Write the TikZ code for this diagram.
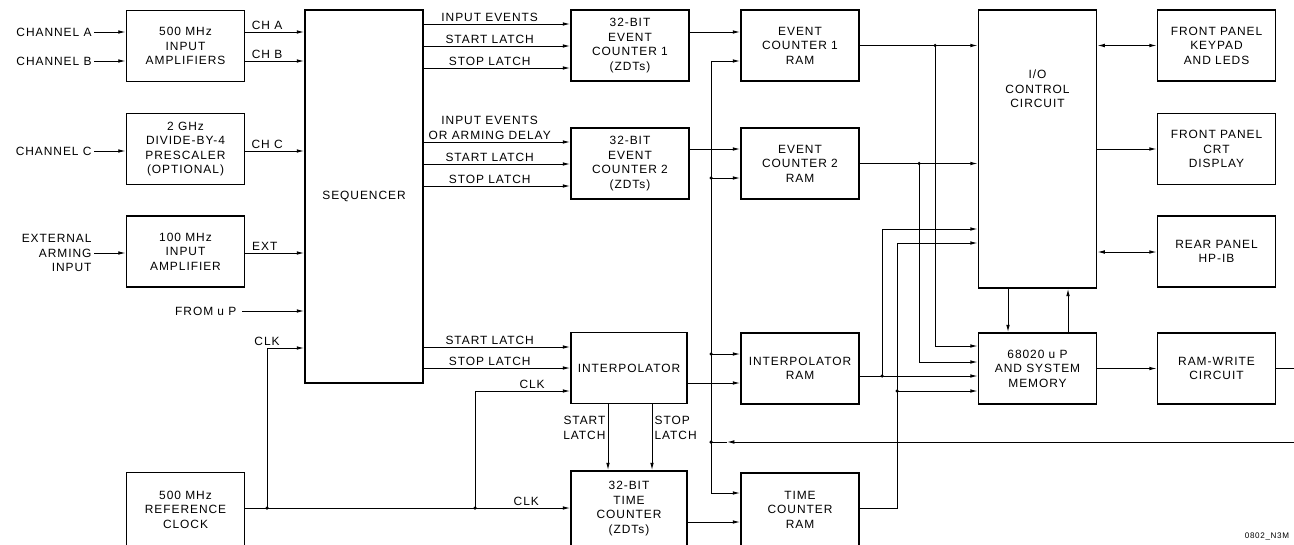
\documentclass[tikz,border=0pt]{standalone}
\usepackage{fontspec}
\setmainfont{Liberation Sans}[LetterSpace=8]
\usetikzlibrary{arrows.meta}

\begin{document}
\begin{tikzpicture}[x=.02cm,y=-.02cm,>={Latex[length=4.2pt,width=2.1pt]},
 every node/.style={font=\fontsize{6.8}{8.2}\selectfont,inner sep=1.5pt},
 box/.style={draw,line width=1pt,align=center,minimum width=2.36cm,minimum height=1.42cm},
 arr/.style={->,line width=.55pt},
 wire/.style={line width=.55pt},
 lbl/.style={inner sep=1.2pt}]
\useasboundingbox (0,0) rectangle (1294,544);
% input stage
\node[box] (amp1) at (185.5,46) {500 MHz\\INPUT\\AMPLIFIERS};
\node[box] (presc) at (185.5,149) {2 GHz\\DIVIDE-BY-4\\PRESCALER\\(OPTIONAL)};
\node[box] (amp100) at (185.5,251.5) {100 MHz\\INPUT\\AMPLIFIER};
\node[box,minimum height=1.48cm] (refclk) at (185.5,509.5) {500 MHz\\REFERENCE\\CLOCK};
\node[box,minimum height=7.46cm] (seq) at (364,196.5) {SEQUENCER};
\node[lbl,anchor=east] (chA) at (94,32) {CHANNEL A};
\node[lbl,anchor=east] (chB) at (94,61) {CHANNEL B};
\node[lbl,anchor=east] (chC) at (94,151) {CHANNEL C};
\node[lbl,anchor=east,align=right] (extarm) at (94,253) {EXTERNAL\\ARMING\\INPUT};
\node[lbl,anchor=east,inner sep=3pt] (fromup) at (242,311) {FROM u P};
\draw[arr] (chA.east) -- (amp1.west |- chA.east);
\draw[arr] (chB.east) -- (amp1.west |- chB.east);
\draw[arr] (chC.east) -- (presc.west |- chC.east);
\draw[arr] (extarm.east) -- (amp100.west |- extarm.east);
\draw[arr] (amp1.east |- chA.east) -- node[lbl,above,pos=.37] (lcha) {CH A} (seq.west |- chA.east);
\draw[arr] (amp1.east |- chB.east) -- node[lbl,above,pos=.37] (lchb) {CH B} (seq.west |- chB.east);
\draw[arr] (presc.east |- chC.east) -- node[lbl,above,pos=.37] (lchc) {CH C} (seq.west |- chC.east);
\draw[arr] (amp100.east |- extarm.east) -- node[lbl,above,pos=.33] (lext) {EXT} (seq.west |- extarm.east);
\draw[arr] (fromup.east) -- (seq.west |- fromup.east);
% counters
\node[box] (ec1) at (630,45.5) {32-BIT\\EVENT\\COUNTER 1\\(ZDTs)};
\node[box] (ec2) at (630,163.5) {32-BIT\\EVENT\\COUNTER 2\\(ZDTs)};
\node[box,minimum width=2.32cm] (interp) at (629,368) {INTERPOLATOR};
\node[box,minimum width=2.32cm,minimum height=1.5cm] (tc) at (629,508.5) {32-BIT\\TIME\\COUNTER\\(ZDTs)};
\draw[arr] (seq.east |- 0,24) -- node[lbl,above,pos=.45] (lie1) {INPUT EVENTS} (ec1.west |- 0,24);
\draw[arr] (seq.east |- 0,46) -- node[lbl,above,pos=.45] (lsa1) {START LATCH} (ec1.west |- 0,46);
\draw[arr] (seq.east |- 0,68) -- node[lbl,above,pos=.45] (lso1) {STOP LATCH} (ec1.west |- 0,68);
\draw[arr] (seq.east |- 0,142) -- node[lbl,above,pos=.45,align=center] (lie2) {INPUT EVENTS\\OR ARMING DELAY} (ec2.west |- 0,142);
\draw[arr] (seq.east |- 0,164) -- node[lbl,above,pos=.45] (lsa2) {START LATCH} (ec2.west |- 0,164);
\draw[arr] (seq.east |- 0,186) -- node[lbl,above,pos=.45] (lso2) {STOP LATCH} (ec2.west |- 0,186);
\draw[arr] (seq.east |- 0,347) -- node[lbl,above,pos=.45] (lsa3) {START LATCH} (interp.west |- 0,347);
\draw[arr] (seq.east |- 0,368) -- node[lbl,above,pos=.45] (lso3) {STOP LATCH} (interp.west |- 0,368);
\draw[arr] (interp.south -| 608,0) -- node[lbl,left,pos=.36,align=right] (lsta) {START\\LATCH} (tc.north -| 608,0);
\draw[arr] (interp.south -| 652,0) -- node[lbl,right,pos=.36,align=left] (lsto) {STOP\\LATCH} (tc.north -| 652,0);
% clock
\coordinate (jclk1) at (267,508);
\coordinate (jclk2) at (475,508);
\draw[arr] (refclk.east |- jclk1) -- node[lbl,above,pos=.865] (lclk3) {CLK} (tc.west |- jclk1);
\draw[arr] (jclk1) |- node[lbl,above,pos=.5] (lclk1) {CLK} (seq.west |- 0,348);
\draw[arr] (jclk2) |- node[lbl,above,pos=.8] (lclk2) {CLK} (interp.west |- 0,391);
% RAMs and bus
\node[box] (ec1ram) at (800,45.5) {EVENT\\COUNTER 1\\RAM};
\node[box] (ec2ram) at (800,163.5) {EVENT\\COUNTER 2\\RAM};
\node[box] (intram) at (800,368.5) {INTERPOLATOR\\RAM};
\node[box,minimum height=1.46cm] (tcram) at (800,509.5) {TIME\\COUNTER\\RAM};
\draw[arr] (ec1.east |- 0,32) -- (ec1ram.west |- 0,32);
\draw[arr] (ec2.east |- 0,149) -- (ec2ram.west |- 0,149);
\draw[arr] (interp.east |- 0,383) -- (intram.west |- 0,383);
\draw[arr] (tc.east |- 0,522) -- (tcram.west |- 0,522);
\coordinate (bustop) at (711,61);
\coordinate (busbot) at (711,493);
\coordinate (jb2) at (711,178);
\coordinate (jb3) at (711,354);
\coordinate (jb4) at (711,442);
\coordinate (wrin) at (727,442);
\draw[arr] (bustop) -- (ec1ram.west |- bustop);
\draw[arr] (bustop) -- (busbot) -- (tcram.west |- busbot);
\draw[arr] (jb2) -- (ec2ram.west |- jb2);
\draw[arr] (jb3) -- (intram.west |- jb3);
% processor side
\node[box,minimum height=5.56cm,label={[align=center,yshift=1.2cm]center:I/O\\CONTROL\\CIRCUIT}] (io) at (1037.5,149) {};
\node[box] (m68) at (1037.5,368.5) {68020 u P\\AND SYSTEM\\MEMORY};
\node[box] (keypad) at (1216.5,45.5) {FRONT PANEL\\KEYPAD\\AND LEDS};
\node[box] (crt) at (1216.5,149) {FRONT PANEL\\CRT\\DISPLAY};
\node[box] (rear) at (1216.5,251.5) {REAR PANEL\\HP-IB};
\node[box] (ramw) at (1216.5,368.5) {RAM-WRITE\\CIRCUIT};
\draw[arr] (ramw.east) -| (1297,442) -- (wrin);
\draw[wire] (wrin) -- (jb4);
\coordinate (ja) at (935,45.5);
\coordinate (jb) at (919,163.5);
\coordinate (jc) at (882,376);
\coordinate (jd) at (897,391);
\draw[arr] (ec1ram.east) -- (io.west |- ec1ram.east);
\draw[arr] (ja) |- (m68.west |- 0,346);
\draw[arr] (ec2ram.east) -- (io.west |- ec2ram.east);
\draw[arr] (jb) |- (m68.west |- 0,362);
\draw[arr] (intram.east |- jc) -- (m68.west |- jc);
\draw[arr] (jc) |- (io.west |- 0,229);
\draw[arr] (tcram.east |- 0,508) -| (897,243) -- (io.west |- 0,243);
\draw[arr] (jd) -- (m68.west |- jd);
\draw[arr] (io.south -| 1008,0) -- (m68.north -| 1008,0);
\draw[arr] (m68.north -| 1068,0) -- (io.south -| 1068,0);
\draw[arr,<->] (io.east |- keypad.west) -- (keypad.west);
\draw[arr] (io.east |- crt.west) -- (crt.west);
\draw[arr,<->] (io.east |- 0,252) -- (rear.west |- 0,252);
\draw[arr] (m68) -- (ramw);
\foreach \j in {jclk1,jclk2,jb2,jb3,jb4,ja,jb,jc,jd}
 \fill (\j) circle (1pt);
\node[anchor=east,font=\fontsize{4.6}{5}\selectfont] (figid) at (1292,536) {0802\_N3M};
\end{tikzpicture}
\end{document}
